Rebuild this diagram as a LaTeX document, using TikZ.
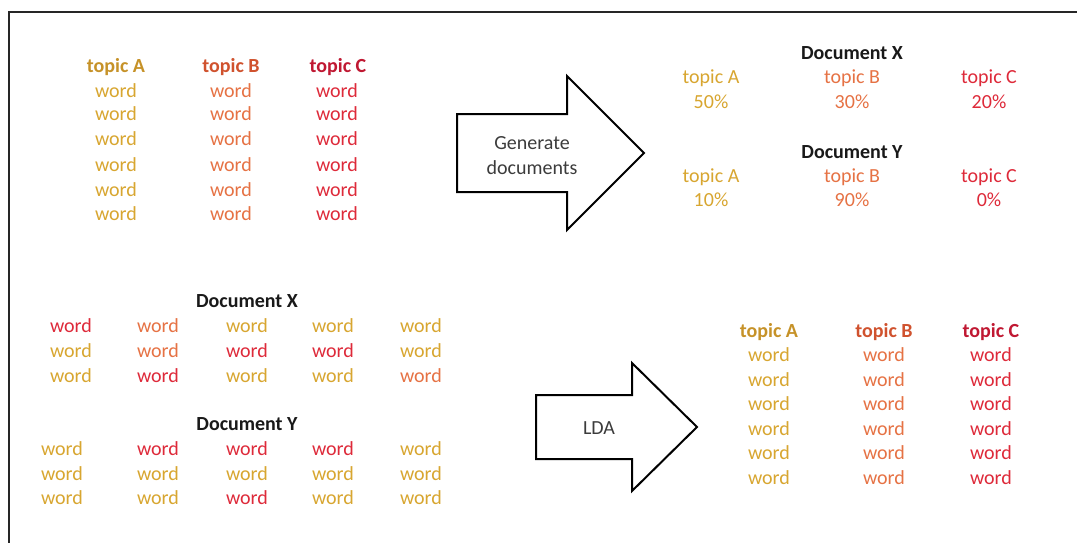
\documentclass[tikz,border=0pt]{standalone}
\usepackage{fontspec}
\setmainfont{Carlito}
\definecolor{gA}{RGB}{216,166,48}
\definecolor{oB}{RGB}{230,114,68}
\definecolor{rC}{RGB}{222,42,58}
\definecolor{hA}{RGB}{198,146,40}
\definecolor{hB}{RGB}{208,82,46}
\definecolor{hC}{RGB}{192,24,50}
\definecolor{ink}{RGB}{25,25,25}
\definecolor{arrtext}{RGB}{60,60,60}
\tikzset{
  txt/.style={font=\fontsize{20}{24}\selectfont, inner sep=0pt, anchor=base},
  hd/.style={font=\fontsize{20}{24}\selectfont\bfseries, inner sep=0pt, anchor=base},
  bigarrow/.style={draw=black, line width=2pt, fill=white, line join=miter},
  frame/.style={draw=black!85, line width=2.8pt}
}
\begin{document}
\begin{tikzpicture}[x=1pt,y=-1pt]
\useasboundingbox (0,0) rectangle (1077,543);
\fill[white] (0,0) rectangle (1077,543);
% frame
\coordinate (f1) at (9,543);
\coordinate (f2) at (9,12);
\coordinate (f3) at (1077,12);
\draw[frame] (f1) -- (f2) -- (f3);

% ---------- top-left topics ----------
\node[hd,text=hA] (tlA) at (116,73) {topic A};
\node[hd,text=hB] (tlB) at (231,73) {topic B};
\node[hd,text=hC] (tlC) at (338,73) {topic C};
\foreach \y [count=\i] in {97,121,146,171,196,220}{
  \node[txt,text=gA] (tla\i) at (116,\y) {word};
  \node[txt,text=oB] (tlb\i) at (231,\y) {word};
  \node[txt,text=rC] (tlc\i) at (337,\y) {word};
}

% ---------- Generate documents arrow ----------
\draw[bigarrow] (457,114) -- (567,114) -- (567,76) -- (644,153) -- (567,230) -- (567,192) -- (457,192) -- cycle;
\node[txt,text=arrtext,anchor=center] (gen1) at (532,143) {Generate};
\node[txt,text=arrtext,anchor=center] (gen2) at (532,168) {documents};

% ---------- top-right documents ----------
\node[hd,text=ink] (trX) at (852,60) {Document X};
\node[txt,text=gA] (trXa) at (711,84) {topic A};
\node[txt,text=oB] (trXb) at (852,84) {topic B};
\node[txt,text=rC] (trXc) at (989,84) {topic C};
\node[txt,text=gA] (trXpa) at (711,108) {50\%};
\node[txt,text=oB] (trXpb) at (852,108) {30\%};
\node[txt,text=rC] (trXpc) at (989,108) {20\%};
\node[hd,text=ink] (trY) at (852,158) {Document Y};
\node[txt,text=gA] (trYa) at (711,182) {topic A};
\node[txt,text=oB] (trYb) at (852,182) {topic B};
\node[txt,text=rC] (trYc) at (989,182) {topic C};
\node[txt,text=gA] (trYpa) at (711,206) {10\%};
\node[txt,text=oB] (trYpb) at (852,206) {90\%};
\node[txt,text=rC] (trYpc) at (989,206) {0\%};

% ---------- bottom-left documents ----------
\node[hd,text=ink] (blX) at (247,307) {Document X};
\foreach \x/\c [count=\i] in {71/rC,158/oB,247/gA,333/gA,421/gA}
  \node[txt,text=\c] (blXa\i) at (\x,332) {word};
\foreach \x/\c [count=\i] in {71/gA,158/oB,247/rC,333/rC,421/gA}
  \node[txt,text=\c] (blXb\i) at (\x,357) {word};
\foreach \x/\c [count=\i] in {71/gA,158/rC,247/gA,333/gA,421/oB}
  \node[txt,text=\c] (blXc\i) at (\x,382) {word};

\node[hd,text=ink] (blY) at (247,430) {Document Y};
\foreach \x/\c [count=\i] in {62/gA,158/rC,247/rC,333/rC,421/gA}
  \node[txt,text=\c] (blYa\i) at (\x,455) {word};
\foreach \x/\c [count=\i] in {62/gA,158/gA,247/gA,333/gA,421/gA}
  \node[txt,text=\c] (blYb\i) at (\x,480) {word};
\foreach \x/\c [count=\i] in {62/gA,158/gA,247/rC,333/gA,421/gA}
  \node[txt,text=\c] (blYc\i) at (\x,504) {word};

% ---------- LDA arrow ----------
\draw[bigarrow] (536,395) -- (632,395) -- (632,363) -- (697,427) -- (632,491) -- (632,459) -- (536,459) -- cycle;
\node[txt,text=arrtext,anchor=center] (lda) at (599,428) {LDA};

% ---------- bottom-right topics ----------
\node[hd,text=hA] (brA) at (769,337) {topic A};
\node[hd,text=hB] (brB) at (884,337) {topic B};
\node[hd,text=hC] (brC) at (991,337) {topic C};
\foreach \y [count=\i] in {361,386,410,435,459,484}{
  \node[txt,text=gA] (bra\i) at (769,\y) {word};
  \node[txt,text=oB] (brb\i) at (884,\y) {word};
  \node[txt,text=rC] (brc\i) at (991,\y) {word};
}
\end{tikzpicture}
\end{document}
